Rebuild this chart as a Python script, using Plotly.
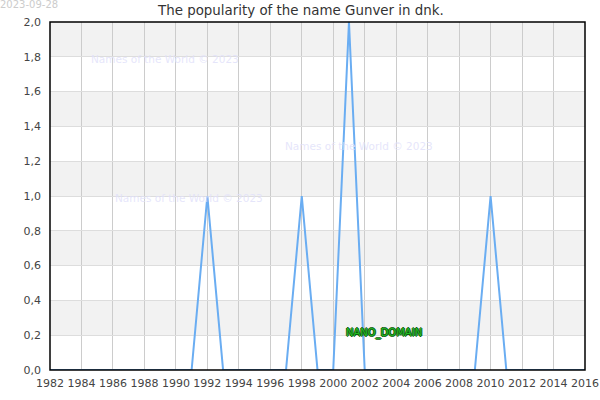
import plotly.graph_objects as go

years = list(range(1982, 2017))
values = [0, 0, 0, 0, 0, 0, 0, 0, 0, 0,  # 1982-1991
          1, 0, 0, 0, 0, 0,              # 1992-1997
          1, 0, 0,                       # 1998-2000
          2, 0, 0, 0, 0, 0, 0, 0, 0,     # 2001-2009
          1, 0, 0, 0, 0, 0, 0]           # 2010-2016
y_ticks = [0.0, 0.2, 0.4, 0.6, 0.8, 1.0, 1.2, 1.4, 1.6, 1.8, 2.0]
x_ticks = list(range(1982, 2017, 2))
title = "The popularity of the name Gunver in dnk."
date_label = "2023-09-28"
watermark = "Names of the World © 2023"

fig = go.Figure()
fig.add_trace(go.Scatter(
    x=years, y=values, mode="lines",
    line=dict(color="#6aadf2", width=2),
    hoverinfo="skip", showlegend=False,
))

shapes = []
for i in range(len(y_ticks) - 1):
    if i % 2 == 1:
        shapes.append(dict(type="rect", xref="paper", yref="y", x0=0, x1=1,
                           y0=y_ticks[i], y1=y_ticks[i + 1],
                           fillcolor="#f2f2f2", line=dict(width=0), layer="below"))
shapes.append(dict(type="rect", xref="paper", yref="paper", x0=0, x1=1, y0=0, y1=1,
                   line=dict(color="#000000", width=1.5), layer="above"))

wm_font = dict(family="DejaVu Sans", size=10.5, color="rgba(225,225,250,0.85)")
annotations = [
    dict(text=title, xref="paper", yref="paper", x=250/535, y=1, yshift=12,
         showarrow=False, font=dict(family="DejaVu Sans", size=13.4, color="#333333"),
         xanchor="center", yanchor="middle"),
    dict(text=date_label, xref="paper", yref="paper", x=-50/535, y=1, yshift=18, xshift=-2,
         showarrow=False, font=dict(family="DejaVu Sans", size=10, color="#cccccc"),
         xanchor="left", yanchor="middle"),
    dict(text=watermark, x=1984.5, y=1.79, showarrow=False, font=wm_font,
         xanchor="left", yanchor="middle"),
    dict(text=watermark, x=1996.8, y=1.29, showarrow=False, font=wm_font,
         xanchor="left", yanchor="middle"),
    dict(text=watermark, x=1986.0, y=0.99, showarrow=False, font=wm_font,
         xanchor="left", yanchor="middle"),
    dict(text="NANO_DOMAIN", x=2000.7, y=0.215, showarrow=False,
         font=dict(family="DejaVu Sans", size=10, color="#22bb22",
                   shadow="1px 0 0 #0a5a0a, -1px 0 0 #0a5a0a, 0 1px 0 #0a5a0a, 0 -1px 0 #0a5a0a"),
         xanchor="left", yanchor="middle"),
]

fig.update_layout(
    template="none",
    width=600, height=400,
    margin=dict(l=50, r=15, t=22, b=30, autoexpand=False),
    paper_bgcolor="white", plot_bgcolor="white",
    separators=",.",
    shapes=shapes, annotations=annotations,
    font=dict(family="DejaVu Sans", size=11, color="#444444"),
    xaxis=dict(range=[1982, 2016], tickvals=x_ticks, ticktext=[str(t) for t in x_ticks],
               showgrid=True, gridcolor="#cccccc", gridwidth=1, zeroline=False,
               showline=False, automargin=False, ticklabelstandoff=5,
               ticks="", ticklen=0, tickfont=dict(size=11, color="#444444"), fixedrange=True),
    yaxis=dict(range=[0, 2], tickvals=y_ticks, tickformat=".1f",
               showgrid=True, gridcolor="#dddddd", gridwidth=1, zeroline=False,
               showline=False, automargin=False, ticklabelstandoff=8,
               ticks="", ticklen=0, tickfont=dict(size=11, color="#444444"), fixedrange=True),
)

fig.write_html("out.html", config={"displayModeBar": False},
               post_script="document.body.style.margin='0';")
